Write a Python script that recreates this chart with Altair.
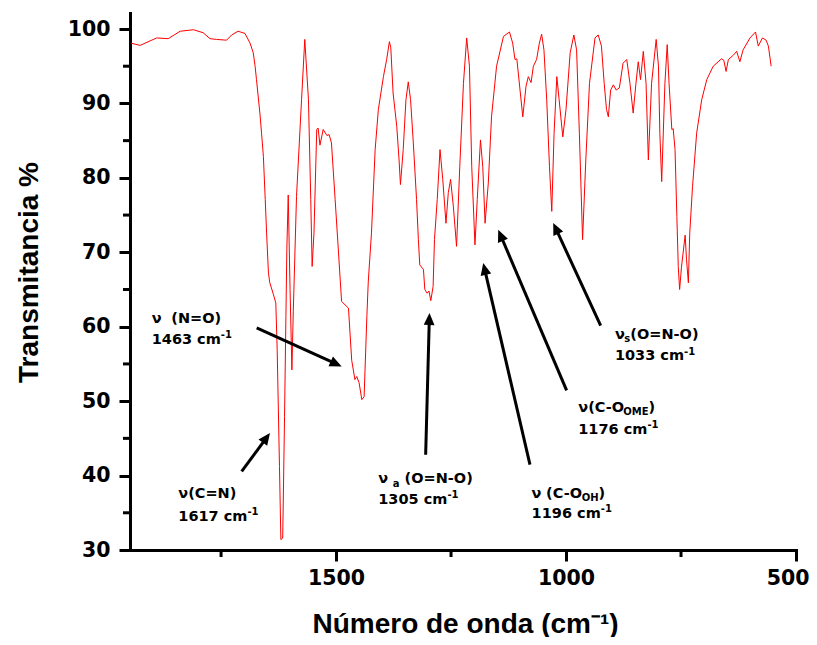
import math
import altair as alt
import pandas as pd

# ---------------- data ----------------
WAVENUMBER = [1946, 1926, 1890, 1865, 1839, 1810, 1789, 1774, 1760, 1738,
              1727, 1713, 1698, 1687, 1680, 1676, 1673, 1665, 1662, 1658,
              1654, 1651, 1647, 1644, 1637, 1631, 1628, 1623, 1620, 1616,
              1612, 1609, 1607, 1604, 1600, 1596, 1593, 1586, 1575, 1568,
              1560, 1555, 1552, 1548, 1542, 1539, 1535, 1528, 1520, 1515,
              1510, 1502, 1495, 1488, 1473, 1466, 1459, 1455, 1450, 1444,
              1439, 1433, 1430, 1423, 1415, 1408, 1397, 1390, 1384, 1381,
              1376, 1368, 1363, 1360, 1354, 1348, 1343, 1338, 1332, 1325,
              1321, 1318, 1310, 1307, 1302, 1298, 1294, 1289, 1286, 1280,
              1274, 1268, 1261, 1256, 1251, 1245, 1238, 1231, 1223, 1216,
              1210, 1205, 1198, 1193, 1186, 1181, 1176, 1169, 1162, 1151,
              1136, 1123, 1116, 1111, 1107, 1100, 1094, 1087, 1082, 1076,
              1071, 1064, 1058, 1053, 1048, 1042, 1036, 1031, 1026, 1020,
              1015, 1007, 1000, 991, 983, 977, 971, 964, 957, 949,
              937, 930, 923, 917, 912, 908, 903, 897, 891, 884,
              876, 868, 861, 854, 848, 843, 838, 832, 826, 821,
              814, 804, 799, 796, 792, 785, 780, 776, 770, 767,
              763, 759, 756, 753, 749, 741, 738, 734, 731, 725,
              716, 705, 694, 680, 662, 657, 652, 647, 636, 629,
              622, 615, 600, 588, 582, 573, 565, 560, 554]

TRANSMITTANCE = [98.1, 97.8, 98.8, 98.7, 99.7, 99.9, 99.5, 98.7, 98.6, 98.5,
                 99.2, 99.7, 99.4, 98.1, 96.8, 95.0, 93.2, 88.3, 86.0, 82.9,
                 77.1, 72.6, 67.2, 65.9, 64.5, 63.2, 56.9, 41.2, 31.4, 31.6,
                 47.9, 61.4, 70.4, 77.7, 65.0, 54.2, 62.0, 77.5, 90.5, 98.6,
                 90.5, 77.1, 68.1, 72.6, 86.5, 86.7, 84.4, 86.5, 85.7, 85.8,
                 84.7, 77.1, 70.3, 63.4, 62.5, 55.5, 52.9, 53.3, 52.5, 50.2,
                 50.6, 61.4, 66.0, 72.6, 83.8, 89.2, 93.6, 95.9, 98.3, 97.5,
                 91.4, 86.9, 82.4, 79.1, 83.8, 90.5, 92.9, 90.5, 84.7, 77.1,
                 71.7, 68.3, 67.7, 65.0, 64.5, 64.8, 63.5, 65.4, 71.7, 77.1,
                 83.8, 79.8, 73.9, 78.0, 79.8, 76.2, 70.8, 81.5, 92.7, 98.8,
                 95.0, 81.5, 71.0, 77.1, 85.1, 81.5, 73.9, 79.3, 88.2, 95.0,
                 99.0, 99.6, 98.1, 95.9, 96.0, 91.8, 88.2, 92.3, 93.6, 92.8,
                 95.0, 95.9, 98.1, 99.3, 97.2, 90.5, 81.5, 75.5, 86.0, 93.6,
                 90.5, 85.5, 89.2, 96.8, 99.2, 97.2, 86.0, 71.7, 82.4, 92.7,
                 98.8, 99.2, 97.7, 92.7, 89.2, 88.2, 91.8, 92.5, 91.8, 92.1,
                 95.4, 95.9, 92.7, 88.7, 92.7, 95.6, 93.2, 97.0, 92.7, 82.4,
                 92.7, 98.6, 95.0, 86.0, 79.5, 92.7, 97.9, 92.7, 86.5, 86.6,
                 83.8, 74.8, 68.1, 65.0, 68.0, 72.3, 69.0, 65.9, 72.6, 78.8,
                 86.0, 90.5, 93.2, 95.0, 96.0, 95.8, 94.3, 95.9, 96.5, 97.0,
                 95.6, 97.2, 98.8, 99.6, 97.7, 98.8, 98.5, 97.7, 95.0]

X_TICKS_MAJOR = [1500, 1000, 500]
X_TICKS_MINOR = [1750, 1250, 750]
Y_TICKS_MAJOR = [30, 40, 50, 60, 70, 80, 90, 100]
Y_TICKS_MINOR = [35, 45, 55, 65, 75, 85, 95]
X_MIN, X_MAX = 500, 1948
Y_MIN, Y_MAX = 30, 102.15

# band assignments (kind: n = normal, sub = subscript, sup = superscript)
MODE_LABELS = [
    [("ν  (N=O)", "n")],
    [("ν(C=N)", "n")],
    [("ν ", "n"), ("a", "sub"), (" (O=N-O)", "n")],
    [("ν (C-O", "n"), ("OH", "sub"), (")", "n")],
    [("ν(C-O", "n"), ("OME", "sub"), (")", "n")],
    [("ν", "n"), ("s", "sub"), ("(O=N-O)", "n")],
]
PEAK_LABELS = ["1463", "1617", "1305", "1196", "1176", "1033"]
LABEL_WN = [1900.8, 1843.0, 1408.2, 1074.8, 973.4, 893.7]
LABEL_T1 = [60.5, 37.0, 39.0, 37.0, 48.6, 58.35]
LABEL_T2 = [57.7, 33.9, 36.2, 34.3, 45.6, 55.5]
ARROW_TAIL_WN = [1672.6, 1705.2, 1305.2, 1078.4, 998.7, 924.7]
ARROW_TAIL_T = [59.83, 40.56, 42.80, 41.46, 51.44, 60.14]
ARROW_TIP_WN = [1487.8, 1643.7, 1296.9, 1180.0, 1147.4, 1027.8]
ARROW_TIP_T = [54.67, 45.72, 61.84, 68.56, 73.03, 73.94]

# ---------------- layout ----------------
W, H = 666, 537
WN_PER_PX = (X_MAX - X_MIN) / W
T_PER_PX = (Y_MAX - Y_MIN) / H

AX_FONT = "DejaVu Sans"
TITLE_FONT = "Liberation Sans"
FS, FS_SMALL = 14.5, 10
SHIFT = {"n": 0.0, "sub": 3.5, "sup": -5.5}
EM = {"0": .696, "1": .696, "2": .696, "3": .696, "4": .696, "5": .696,
      "6": .696, "7": .696, "8": .696, "9": .696, " ": .348, "c": .593,
      "m": 1.042, "(": .457, ")": .457, "C": .734, "=": .838, "N": .837,
      "O": .850, "-": .415, "H": .837, "M": .995, "E": .683, "s": .595,
      "a": .675, "ν": .652}


def text_width(s, size):
    return sum(EM.get(ch, 0.65) for ch in s) * size


rows = []
for i in range(len(MODE_LABELS)):
    lines = [(MODE_LABELS[i], LABEL_T1[i]),
             ([(PEAK_LABELS[i] + " cm", "n"), ("-1", "sup")], LABEL_T2[i])]
    for segs, t0 in lines:
        off = 0.0
        for txt, kind in segs:
            size = FS if kind == "n" else FS_SMALL
            pos = 0.0
            for word in txt.split(" "):
                if word:
                    rows.append(dict(x=LABEL_WN[i] - (off + pos) * WN_PER_PX,
                                     y=t0 - SHIFT[kind] * T_PER_PX,
                                     text=word, size=size))
                pos += text_width(word, size) + EM[" "] * size
            off += text_width(txt, size)
text_df = pd.DataFrame(rows)


def to_px(wn, t):
    return (X_MAX - wn) / WN_PER_PX, (Y_MAX - t) / T_PER_PX


def to_data(sx, sy):
    return X_MAX - sx * WN_PER_PX, Y_MAX - sy * T_PER_PX


arrows = []
for a, b, c, d in zip(ARROW_TAIL_WN, ARROW_TAIL_T, ARROW_TIP_WN, ARROW_TIP_T):
    x0, y0 = to_px(a, b)
    x1, y1 = to_px(c, d)
    vx, vy = x1 - x0, y1 - y0
    L = math.hypot(vx, vy)
    ex, ey = x1 - vx / L * 6, y1 - vy / L * 6
    ew, et = to_data(ex, ey)
    ang = math.degrees(math.atan2(vx, -vy)) % 360
    arrows.append(dict(x1=a, y1=b, x2=ew, y2=et, tx=c, ty=d, angle=ang))
arrow_df = pd.DataFrame(arrows)

spec_df = pd.DataFrame({"wn": WAVENUMBER, "t": TRANSMITTANCE})

XS = alt.Scale(domain=[X_MIN, X_MAX], reverse=True, nice=False, zero=False)
YS = alt.Scale(domain=[Y_MIN, Y_MAX], nice=False, zero=False)

x_axis = alt.Axis(values=X_TICKS_MAJOR, format="d", grid=False, labelFont=AX_FONT,
                  labelFontWeight="bold", labelFontSize=20.5, labelColor="black",
                  labelPadding=7, labelFlush=True, labelFlushOffset=13,
                  labelOverlap=False,
                  tickSize=11, tickWidth=3, tickColor="black",
                  domainColor="black", domainWidth=3, domainCap="square",
                  title="Número de onda (cm⁻¹)", titleFont=TITLE_FONT,
                  titleFontSize=28, titleFontWeight="bold", titleColor="black",
                  titleX=335, titleY=82, titleAlign="center",
                  titleBaseline="alphabetic")
y_axis = alt.Axis(values=Y_TICKS_MAJOR, format="d", grid=False, labelFont=AX_FONT,
                  labelFontWeight="bold", labelFontSize=20.5, labelColor="black",
                  labelPadding=9, labelFlush=False, labelOverlap=False,
                  tickSize=11, tickWidth=3, tickColor="black",
                  domainColor="black", domainWidth=3, domainCap="square",
                  title="Transmitancia %", titleFont=TITLE_FONT,
                  titleFontSize=28, titleFontWeight="bold", titleColor="black",
                  titleX=-93, titleY=259, titleAngle=270, titleAlign="center",
                  titleBaseline="alphabetic")


def X(field):
    return alt.X(field, scale=XS, axis=x_axis)


def Y(field):
    return alt.Y(field, scale=YS, axis=y_axis)


spectrum = alt.Chart(spec_df).mark_line(color="#ff0000", strokeWidth=1).encode(
    x=X("wn:Q"), y=Y("t:Q"))

x_minor = alt.Chart(pd.DataFrame({"v": X_TICKS_MINOR})).mark_rule(
    color="black", strokeWidth=3).encode(
    x=X("v:Q"), y=alt.value(H), y2=alt.value(H + 7))

y_minor = alt.Chart(pd.DataFrame({"v": Y_TICKS_MINOR})).mark_rule(
    color="black", strokeWidth=3).encode(
    y=Y("v:Q"), x=alt.value(0), x2=alt.value(-7))

shafts = alt.Chart(arrow_df).mark_rule(color="black", strokeWidth=3).encode(
    x=X("x1:Q"), x2="x2:Q", y=Y("y1:Q"), y2="y2:Q")

heads = alt.Chart(arrow_df).mark_point(
    shape="M0,0L-0.9,2L0.9,2Z", filled=True, size=144, color="black",
    opacity=1, strokeWidth=0).encode(
    x=X("tx:Q"), y=Y("ty:Q"),
    angle=alt.Angle("angle:Q", scale=None))

labels = alt.Chart(text_df).mark_text(
    align="left", baseline="alphabetic", font=AX_FONT, fontWeight="bold",
    color="black").encode(
    x=X("x:Q"), y=Y("y:Q"),
    text="text:N",
    size=alt.Size("size:Q", scale=None, legend=None))

chart = alt.layer(spectrum, x_minor, y_minor, shafts, heads, labels).properties(
    width=W, height=H,
    autosize=alt.AutoSizeParams(type="none"),
    padding={"left": 122, "top": 5, "right": 13, "bottom": 87},
    background="white",
).configure_view(stroke=None)

chart.save("out.html", embed_options={"renderer": "svg", "actions": False})
